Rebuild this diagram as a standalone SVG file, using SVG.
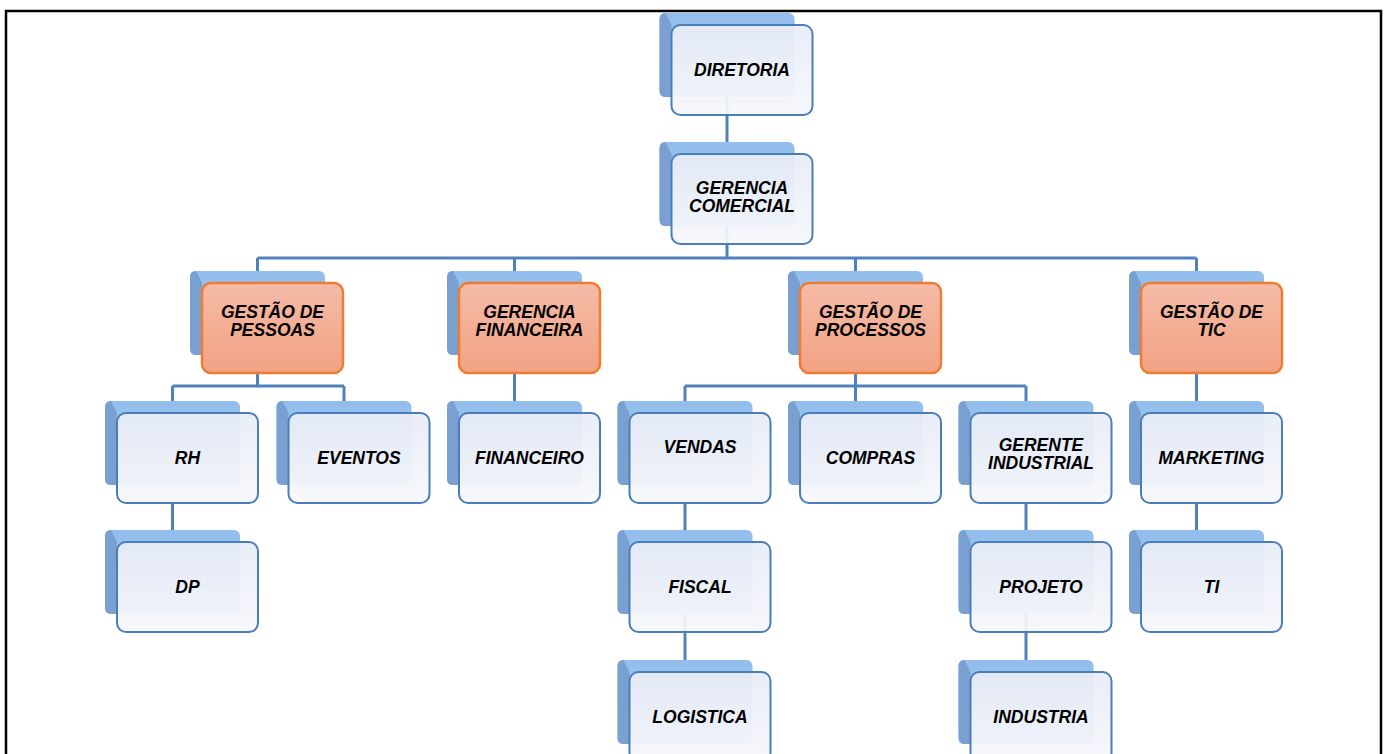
<svg xmlns="http://www.w3.org/2000/svg" width="1384" height="754" viewBox="0 0 1384 754">
<defs>
<linearGradient id="gBack" x1="0" y1="0" x2="0" y2="1">
<stop offset="0" stop-color="#92bdec"/>
<stop offset="1" stop-color="#acd0f5"/>
</linearGradient>
<linearGradient id="gFront" x1="0" y1="0" x2="0" y2="1">
<stop offset="0" stop-color="#e8ecf6"/>
<stop offset="1" stop-color="#f6f7fb"/>
</linearGradient>
<linearGradient id="gOrange" x1="0" y1="0" x2="0" y2="1">
<stop offset="0" stop-color="#f5bba8"/>
<stop offset="1" stop-color="#f2a283"/>
</linearGradient>
<g id="back">
<rect x="-12" y="-12" width="135" height="84" rx="6" fill="url(#gBack)"/>
<path d="M-12,-6 Q-12,-12 -6,-12 L0,0 L0,72 L-6,72 Q-12,72 -12,66 Z" fill="#7aa0d2"/>
</g>
</defs>
<style>
.frame{fill:none;stroke:#000;stroke-width:2.5}
.conn{fill:none;stroke:#4f81bd;stroke-width:3}
.f{fill:url(#gFront);fill-opacity:0.93;stroke:#4a7ebb;stroke-width:2}
.o{fill:url(#gOrange);stroke:#ed7d31;stroke-width:2.5}
text{font-family:"Liberation Sans",Arial,sans-serif;font-size:17.5px;font-weight:bold;font-style:italic;fill:#000;text-anchor:middle}
</style>
<path class="frame" d="M6,754 V11 H1381 V754"/>
<g id="connectors">
<path class="conn" d="M727,70 V258 M257.5,258 H1196.5 M257.5,258 V283 M514.5,258 V283 M855.5,258 V283 M1196.5,258 V283"/>
<path class="conn" d="M257.5,373 V386 M172.5,386 H344 M172.5,386 V413 M344,386 V413"/>
<path class="conn" d="M514.5,373 V413"/>
<path class="conn" d="M855.5,373 V386 M685,386 H1026 M685,386 V413 M855.5,386 V413 M1026,386 V413"/>
<path class="conn" d="M1196.5,373 V413"/>
<path class="conn" d="M172.5,503 V542"/>
<path class="conn" d="M685,503 V672"/>
<path class="conn" d="M1026,503 V672"/>
<path class="conn" d="M1196.5,503 V542"/>
</g>
<g id="n-diretoria" transform="translate(671.5,25)"><use href="#back"/><rect class="f" width="141" height="90" rx="9"/><text x="70.5" y="51">DIRETORIA</text></g>
<g id="n-gerencia-comercial" transform="translate(671.5,154)"><use href="#back"/><rect class="f" width="141" height="90" rx="9"/><text x="70.5" y="40">GERENCIA</text><text x="70.5" y="58">COMERCIAL</text></g>
<g id="n-gestao-pessoas" transform="translate(202,283)"><use href="#back"/><rect class="o" width="141" height="90" rx="9"/><text x="70.5" y="35">GESTÃO DE</text><text x="70.5" y="53">PESSOAS</text></g>
<g id="n-gerencia-financeira" transform="translate(459,283)"><use href="#back"/><rect class="o" width="141" height="90" rx="9"/><text x="70.5" y="35">GERENCIA</text><text x="70.5" y="53">FINANCEIRA</text></g>
<g id="n-gestao-processos" transform="translate(800,283)"><use href="#back"/><rect class="o" width="141" height="90" rx="9"/><text x="70.5" y="35">GESTÃO DE</text><text x="70.5" y="53">PROCESSOS</text></g>
<g id="n-gestao-tic" transform="translate(1141,283)"><use href="#back"/><rect class="o" width="141" height="90" rx="9"/><text x="70.5" y="35">GESTÃO DE</text><text x="70.5" y="53">TIC</text></g>
<g id="n-rh" transform="translate(117,413)"><use href="#back"/><rect class="f" width="141" height="90" rx="9"/><text x="70.5" y="51">RH</text></g>
<g id="n-eventos" transform="translate(288.5,413)"><use href="#back"/><rect class="f" width="141" height="90" rx="9"/><text x="70.5" y="51">EVENTOS</text></g>
<g id="n-financeiro" transform="translate(459,413)"><use href="#back"/><rect class="f" width="141" height="90" rx="9"/><text x="70.5" y="51">FINANCEIRO</text></g>
<g id="n-vendas" transform="translate(629.5,413)"><use href="#back"/><rect class="f" width="141" height="90" rx="9"/><text x="70.5" y="40">VENDAS</text></g>
<g id="n-compras" transform="translate(800,413)"><use href="#back"/><rect class="f" width="141" height="90" rx="9"/><text x="70.5" y="51">COMPRAS</text></g>
<g id="n-gerente-industrial" transform="translate(970.5,413)"><use href="#back"/><rect class="f" width="141" height="90" rx="9"/><text x="70.5" y="38">GERENTE</text><text x="70.5" y="56">INDUSTRIAL</text></g>
<g id="n-marketing" transform="translate(1141,413)"><use href="#back"/><rect class="f" width="141" height="90" rx="9"/><text x="70.5" y="51">MARKETING</text></g>
<g id="n-dp" transform="translate(117,542)"><use href="#back"/><rect class="f" width="141" height="90" rx="9"/><text x="70.5" y="51">DP</text></g>
<g id="n-fiscal" transform="translate(629.5,542)"><use href="#back"/><rect class="f" width="141" height="90" rx="9"/><text x="70.5" y="51">FISCAL</text></g>
<g id="n-projeto" transform="translate(970.5,542)"><use href="#back"/><rect class="f" width="141" height="90" rx="9"/><text x="70.5" y="51">PROJETO</text></g>
<g id="n-ti" transform="translate(1141,542)"><use href="#back"/><rect class="f" width="141" height="90" rx="9"/><text x="70.5" y="51">TI</text></g>
<g id="n-logistica" transform="translate(629.5,672)"><use href="#back"/><rect class="f" width="141" height="90" rx="9"/><text x="70.5" y="51">LOGISTICA</text></g>
<g id="n-industria" transform="translate(970.5,672)"><use href="#back"/><rect class="f" width="141" height="90" rx="9"/><text x="70.5" y="51">INDUSTRIA</text></g>
</svg>
